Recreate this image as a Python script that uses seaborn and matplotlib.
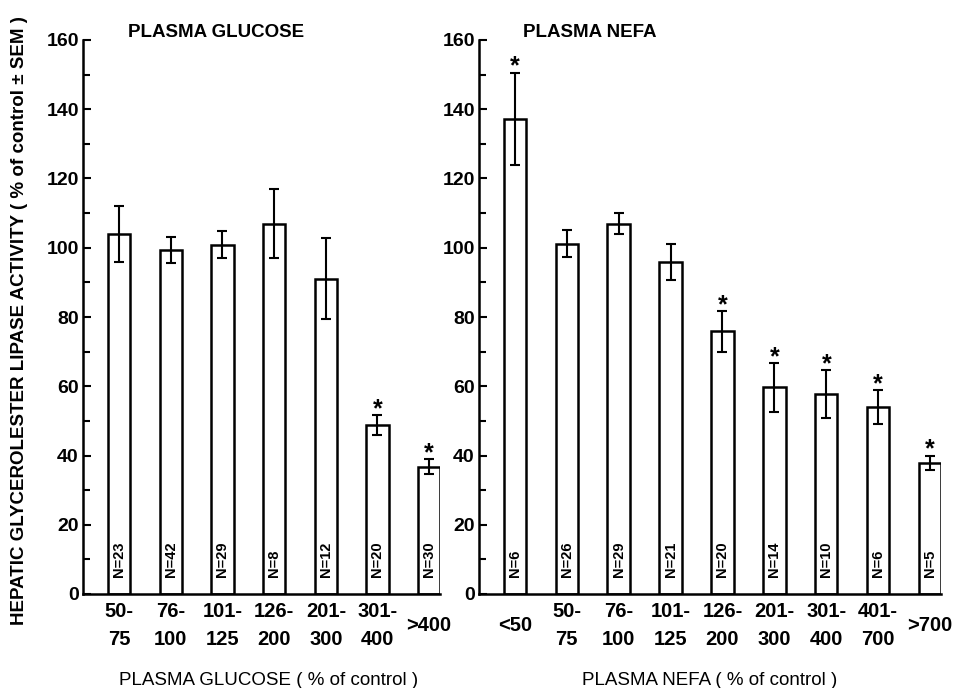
import matplotlib
matplotlib.use("Agg")
import matplotlib.pyplot as plt
import seaborn as sns
import pandas as pd
import numpy as np

# Plasma glucose panel
glu_labels = ["50-\n75", "76-\n100", "101-\n125", "126-\n200", "201-\n300", "301-\n400", ">400"]
glu_mean = [104, 99.3, 100.8, 107, 91, 48.8, 36.8]
glu_sem = [8, 3.8, 3.9, 10, 11.7, 3.0, 2.2]
glu_n = [23, 42, 29, 8, 12, 20, 30]
glu_sig = [False, False, False, False, False, True, True]

# Plasma NEFA panel
nefa_labels = ["<50", "50-\n75", "76-\n100", "101-\n125", "126-\n200", "201-\n300", "301-\n400", "401-\n700", ">700"]
nefa_mean = [137.3, 101.2, 107, 95.8, 75.9, 59.7, 57.7, 54, 37.9]
nefa_sem = [13.3, 3.9, 3.0, 5.2, 5.9, 7.1, 7.0, 4.8, 2.1]
nefa_n = [6, 26, 29, 21, 20, 14, 10, 6, 5]
nefa_sig = [True, False, False, False, True, True, True, True, True]

sns.set_style("ticks")
plt.rcParams["font.family"] = ["Liberation Sans", "DejaVu Sans"]
plt.rcParams["text.color"] = "black"
plt.rcParams["axes.labelcolor"] = "black"
plt.rcParams["xtick.color"] = "black"
plt.rcParams["ytick.color"] = "black"

fig = plt.figure(figsize=(9.54, 6.88), dpi=100)
ax1 = fig.add_axes([83 / 954, 1 - 594 / 688, 357 / 954, 554 / 688])
ax2 = fig.add_axes([479 / 954, 1 - 594 / 688, 462 / 954, 554 / 688])


def draw_panel(ax, labels, mean, sem, n, sig, xlim, title, title_x, xlabel, xlabel_x):
    df = pd.DataFrame({"group": labels, "value": mean})
    sns.barplot(data=df, x="group", y="value", ax=ax, color="white",
                edgecolor="black", linewidth=1.8, width=0.43, errorbar=None)
    pos = np.arange(len(labels))
    ax.errorbar(pos, mean, yerr=sem, fmt="none", ecolor="black",
                elinewidth=1.5, capsize=3.8, capthick=1.5)
    for i in pos:
        ax.text(i, 5, f"N={n[i]}", rotation=90, ha="center", va="bottom",
                fontsize=10.5, fontweight="bold")
        if sig[i]:
            ax.annotate("*", (i, mean[i] + sem[i]), xytext=(0, -4.5),
                        textcoords="offset points", ha="center", va="bottom",
                        fontsize=18, fontweight="bold")
    ax.set_ylim(0, 160)
    ax.set_xlim(*xlim)
    ax.set_yticks(np.arange(0, 161, 20))
    ax.set_yticks(np.arange(10, 160, 20), minor=True)
    ax.tick_params(axis="y", which="both", direction="in", width=1.5,
                   labelsize=14, pad=3)
    ax.tick_params(axis="y", which="major", length=6)
    ax.tick_params(axis="y", which="minor", length=5)
    ax.tick_params(axis="x", length=0, labelsize=14.5, pad=22.5)
    for t in ax.get_xticklabels() + ax.get_yticklabels():
        t.set_fontweight("bold")
    for t in ax.get_xticklabels():
        t.set_verticalalignment("center")
        t.set_linespacing(1.6)
    for s in ["top", "right"]:
        ax.spines[s].set_visible(False)
    for s in ["left", "bottom"]:
        ax.spines[s].set_linewidth(1.8)
        ax.spines[s].set_color("black")
    ax.text(title_x, 1.0144, title, transform=ax.transAxes, ha="left",
            va="center", fontsize=13.5, fontweight="bold")
    ax.set_xlabel(xlabel, fontsize=13.5)
    ax.xaxis.set_label_coords(xlabel_x, -0.14)
    ax.set_ylabel("")


draw_panel(ax1, glu_labels, glu_mean, glu_sem, glu_n, glu_sig, (-0.70, 6.21),
           "PLASMA GLUCOSE", 0.126, "PLASMA GLUCOSE ( % of control )", 0.52)
draw_panel(ax2, nefa_labels, nefa_mean, nefa_sem, nefa_n, nefa_sig, (-0.69, 8.21),
           "PLASMA NEFA", 0.095, "PLASMA NEFA ( % of control )", 0.5)

ax1.set_ylabel("HEPATIC GLYCEROLESTER LIPASE ACTIVITY ( % of control \u00b1 SEM )",
               fontsize=13.5, fontweight="bold")
ax1.yaxis.set_label_coords(-0.155, 0.493)

fig.savefig("out.png", dpi=100)
